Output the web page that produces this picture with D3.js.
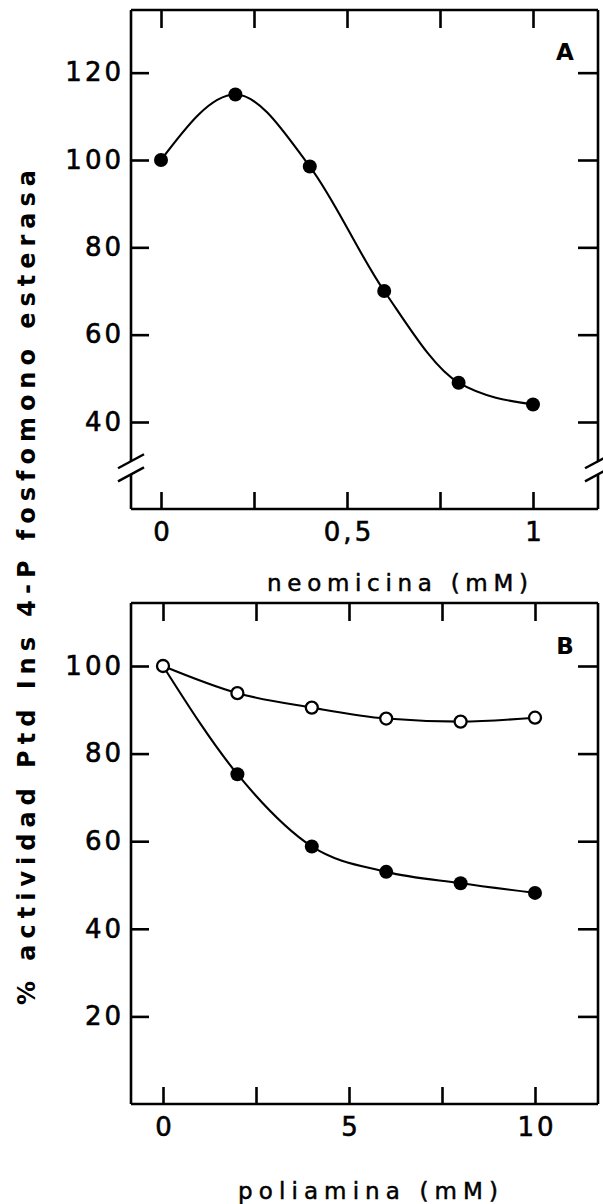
<!DOCTYPE html>
<html><head><meta charset="utf-8">
<script src="https://cdn.jsdelivr.net/npm/d3@7/dist/d3.min.js"></script>
<style>
html,body{margin:0;padding:0;background:#fff;}
svg{display:block;}
text{font-family:"DejaVu Sans",sans-serif;fill:#000;}
</style></head>
<body>
<svg id="chart" width="603" height="1204"></svg>
<script>
// ---- data ----
const neoX = [0, 0.2, 0.4, 0.6, 0.8, 1.0];
const neoActivity = [100, 115, 98.5, 70, 49, 44];

const poliX = [0, 2, 4, 6, 8, 10];
const poliOpen = [100, 93.8, 90.5, 88, 87.3, 88.2];
const poliFilled = [100, 75.3, 58.8, 53, 50.4, 48.2];

const neoXTicks = [0, 0.25, 0.5, 0.75, 1];
const neoXLabels = ["0", "", "0,5", "", "1"];
const neoYTicks = [40, 60, 80, 100, 120];
const poliXTicks = [0, 2.5, 5, 7.5, 10];
const poliXLabels = ["0", "", "5", "", "10"];
const poliYTicks = [20, 40, 60, 80, 100];

const yTitle = "% actividad Ptd Ins 4-P fosfomono esterasa";
const xTitleA = "neomicina (mM)";
const xTitleB = "poliamina (mM)";

// ---- layout ----
const svg = d3.select("#chart");
const L = 131, R = 598;
const frameA = {top: 10, bottom: 509};
const frameB = {top: 603, bottom: 1104};

const xA = d3.scaleLinear().domain([0, 1]).range([161, 533]);
const yA = d3.scaleLinear().domain([40, 100]).range([422, 160]);
const xB = d3.scaleLinear().domain([0, 10]).range([163, 535]);
const yB = d3.scaleLinear().domain([0, 100]).range([1104, 666]);

const SW = 2.6;
function styleAxis(g, fs) {
  g.select(".domain").remove();
  g.selectAll(".tick line").attr("stroke", "#000").attr("stroke-width", SW);
  g.selectAll(".tick text").attr("font-size", fs).style("letter-spacing", "3px")
    .attr("fill", "#000").attr("stroke", "#000").attr("stroke-width", 0.6);
}

function panel(x, y, frame, xTicks, xLabels, yTicks, brk) {
  const g = svg.append("g");
  const gl = g.append("g").attr("transform", `translate(${L},0)`)
    .call(d3.axisLeft(y).tickValues(yTicks).tickSize(-18).tickPadding(10).tickFormat(d3.format("d")));
  styleAxis(gl, 26);
  gl.selectAll(".tick text").attr("dx", "3px");
  const gr = g.append("g").attr("transform", `translate(${R},0)`)
    .call(d3.axisRight(y).tickValues(yTicks).tickSize(-20).tickFormat(""));
  styleAxis(gr, 26);
  const gt = g.append("g").attr("transform", `translate(0,${frame.top})`)
    .call(d3.axisTop(x).tickValues(xTicks).tickSize(-18).tickFormat(""));
  styleAxis(gt, 26);
  const gb = g.append("g").attr("transform", `translate(0,${frame.bottom})`)
    .call(d3.axisBottom(x).tickValues(xTicks).tickSize(-17).tickPadding(14).tickFormat((d, i) => xLabels[i]));
  styleAxis(gb, 26);
  gb.selectAll(".tick text").attr("dy", "0.71em").attr("dx", "1.5px");

  const fr = g.append("g").attr("stroke", "#000").attr("stroke-width", SW).attr("fill", "none");
  fr.append("line").attr("x1", L).attr("x2", R).attr("y1", frame.top).attr("y2", frame.top);
  fr.append("line").attr("x1", L).attr("x2", R).attr("y1", frame.bottom).attr("y2", frame.bottom);
  if (brk) {
    const yb1 = y(brk[1]), yb2 = y(brk[0]);
    [L, R].forEach(xx => {
      fr.append("line").attr("x1", xx).attr("x2", xx).attr("y1", frame.top).attr("y2", yb1);
      fr.append("line").attr("x1", xx).attr("x2", xx).attr("y1", yb2).attr("y2", frame.bottom);
      [yb1, yb2].forEach(yy => {
        fr.append("line").attr("x1", xx - 13).attr("y1", yy + 7).attr("x2", xx + 13).attr("y2", yy - 7)
          .attr("stroke-width", 2.4);
      });
    });
  } else {
    [L, R].forEach(xx => fr.append("line").attr("x1", xx).attr("x2", xx).attr("y1", frame.top).attr("y2", frame.bottom));
  }
  return g;
}

const gA = panel(xA, yA, frameA, neoXTicks, neoXLabels, neoYTicks, [28, 31]);
const gB = panel(xB, yB, frameB, poliXTicks, poliXLabels, poliYTicks, null);

function curve(g, xs, ys, x, y) {
  const pts = xs.map((d, i) => [x(d), y(ys[i])]);
  g.append("path").attr("d", d3.line().curve(d3.curveMonotoneX)(pts))
    .attr("fill", "none").attr("stroke", "#000").attr("stroke-width", 2.1);
  return pts;
}
function dots(g, pts, filled) {
  g.selectAll(null).data(pts).enter().append("circle")
    .attr("cx", d => d[0]).attr("cy", d => d[1])
    .attr("r", filled ? 7 : 6)
    .attr("fill", filled ? "#000" : "#fff")
    .attr("stroke", "#000").attr("stroke-width", filled ? 0 : 2.3);
}

const pA = curve(gA, neoX, neoActivity, xA, yA);
dots(gA, pA, true);

const pBo = curve(gB, poliX, poliOpen, xB, yB);
const pBf = curve(gB, poliX, poliFilled, xB, yB);
dots(gB, pBo, false);
dots(gB, pBf.slice(1), true);

// panel letters
svg.append("text").attr("x", 565).attr("y", 60).attr("text-anchor", "middle")
  .attr("font-size", 23).attr("font-weight", "bold").text("A");
svg.append("text").attr("x", 565).attr("y", 654).attr("text-anchor", "middle")
  .attr("font-size", 23).attr("font-weight", "bold").text("B");

// axis titles
svg.append("text").attr("x", 267).attr("y", 591).attr("font-size", 23)
  .attr("stroke", "#000").attr("stroke-width", 0.5)
  .attr("textLength", 261).attr("lengthAdjust", "spacing").text(xTitleA);
svg.append("text").attr("x", 238).attr("y", 1199).attr("font-size", 23)
  .attr("stroke", "#000").attr("stroke-width", 0.5)
  .attr("textLength", 260).attr("lengthAdjust", "spacing").text(xTitleB);
svg.append("text").attr("transform", "translate(35,1005) rotate(-90)").attr("font-size", 24)
  .attr("font-weight", "bold").attr("textLength", 835).attr("lengthAdjust", "spacing").text(yTitle);
</script>
</body></html>
